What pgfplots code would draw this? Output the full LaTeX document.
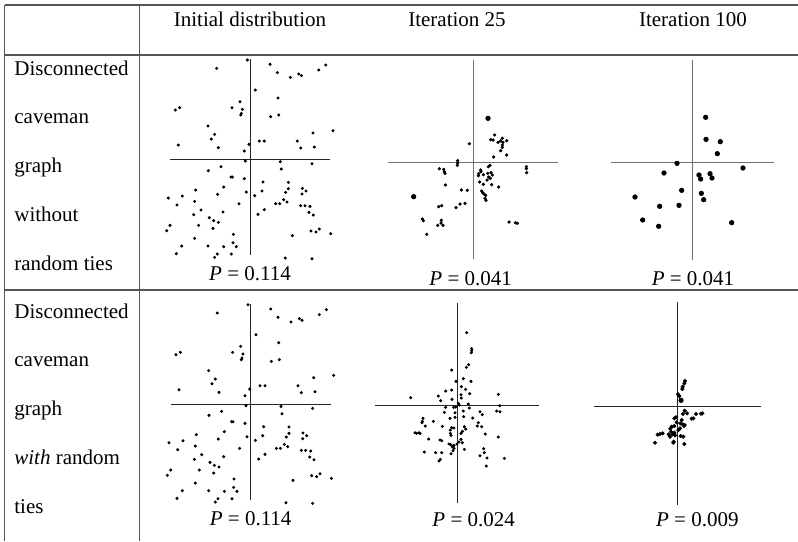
\documentclass[border=0pt]{standalone}
\usepackage{fontspec}
\setmainfont{Liberation Serif}
\usepackage{pgfplots}
\usepackage{pgfplotstable}
\pgfplotsset{compat=1.18}

\definecolor{rulegray}{HTML}{555555}
\definecolor{crossgray}{HTML}{707070}

% one unit in the panels = 1/3 px of the original figure, y downwards
\pgfplotsset{
  panel/.style={scale only axis, hide axis, anchor=north west,
    y dir=reverse, clip=false, xmin=0, ymin=0},
  dots/.style={only marks, mark=*, mark size=#1, black},
  cross/.style={no marks, line width=0.5pt, color=#1},
}

% initial distribution (same for both graphs)
\pgfplotstableread{
x y
322 15
230 40
390 28
412 53
451 67
476 57
484 62
536 45
557 30
346 105
300 140
414 129
106 165
119 158
276 158
307 163
304 175
302 180
392 185
416 180
204 213
224 238
214 252
519 234
579 227
115 270
235 278
327 268
358 258
373 258
472 258
482 279
523 276
313 288
316 318
421 320
516 326
243 335
205 347
424 342
273 366
277 366
313 371
369 381
445 382
251 396
167 405
445 401
487 400
498 408
437 412
486 417
319 411
366 408
85 429
127 423
233 418
344 422
164 439
431 434
441 441
407 446
419 446
297 446
111 450
482 452
495 452
510 454
183 465
373 464
249 471
161 479
354 478
507 472
520 480
208 488
221 497
235 502
90 511
80 527
176 511
219 520
280 538
457 542
513 528
528 531
538 522
572 536
164 550
279 563
289 575
125 573
204 573
251 575
109 596
232 597
224 607
274 597
436 609
516 611
}\initdist

% without random ties, iteration 25
\pgfplotstableread{
x y
449 240
437 254
444 255
459 262
467 258
472 250
474 262
485 257
472 270
472 277
467 287
485 300
373 266
446 306
338 317
338 324
337 331
435 331
430 335
283 341
296 343
298 350
300 355
407 345
408 350
401 356
400 362
415 359
428 355
438 353
442 360
431 366
436 370
426 375
404 381
415 388
440 389
461 396
544 335
544 341
545 353
301 390
349 405
367 406
410 408
413 413
418 418
420 430
423 436
422 421
290 452
281 455
345 447
360 445
333 458
232 492
235 497
289 496
288 504
278 511
294 511
492 501
511 503
517 505
245 538
}\noTiesA
\pgfplotstableread{
x y
429 190
206 425
}\noTiesAbig

% without random ties, iteration 100
\pgfplotstableread{
x y
407 187
408 253
451 260
442 296
321 325
282 354
387 360
392 372
420 356
426 369
519 339
335 406
394 415
401 434
195 426
269 454
327 451
218 495
266 514
485 503
}\noTiesB

% with random ties, iteration 25
\pgfplotstableread{
x y
365 128
380 176
380 182
379 188
371 224
364 232
320 240
333 274
355 266
378 274
349 290
362 298
320 300
302 303
280 318
287 332
321 328
348 314
374 311
349 324
197 323
460 313
340 340
343 345
332 351
326 352
302 352
370 342
373 354
464 347
455 363
465 365
298 367
330 368
355 363
405 365
412 374
315 385
330 382
356 380
383 384
234 385
232 394
231 398
265 394
400 398
397 408
410 410
241 408
292 409
320 413
327 414
358 410
362 417
352 424
348 430
210 428
215 430
222 428
225 430
316 420
316 430
318 436
421 432
460 441
251 447
285 450
290 452
348 448
342 456
352 458
312 462
317 464
327 466
322 470
327 475
336 462
358 478
416 476
418 488
324 482
238 486
272 488
290 488
286 508
282 513
318 491
405 497
426 504
478 505
424 528
}\tiesA

% with random ties, iteration 100
\pgfplotstableread{
x y
345 273
343 280
338 290
337 297
324 313
328 318
344 362
339 372
351 370
365 386
370 385
378 372
393 371
397 370
318 382
313 385
335 390
320 397
331 400
338 403
344 405
342 408
313 408
305 410
301 416
330 415
325 420
313 428
303 425
296 433
307 433
278 430
270 432
263 434
300 440
315 436
332 438
340 440
311 455
310 458
255 458
343 462
}\tiesB

\begin{document}
\begin{tikzpicture}[x=0.5pt, y=-0.5pt, font=\fontsize{10.5}{12}\selectfont]
\useasboundingbox (0,0) rectangle (798,541);

% table rules
\draw[rulegray, line width=0.6pt] (4.5,5) -- (798,5);
\draw[rulegray, line width=1pt] (4.5,55) -- (798,55);
\draw[rulegray, line width=0.6pt] (4.5,290) -- (798,290);
\draw[rulegray, line width=0.6pt] (4.5,5) -- (4.5,541);
\draw[rulegray, line width=0.6pt] (139.5,5) -- (139.5,541);

% column heads
\node[anchor=base] at (250,26.5) {Initial distribution};
\node[anchor=base] at (457,26.5) {Iteration 25};
\node[anchor=base] at (693,26.5) {Iteration 100};

% row heads
\foreach \txt [count=\i from 0] in {Disconnected, caveman, graph, without, random ties}
  \node[anchor=base west, inner sep=0pt] at (14,75+48.75*\i) {\txt};
\foreach \txt [count=\i from 0] in {Disconnected, caveman, graph, {\textit{with} random}, ties}
  \node[anchor=base west, inner sep=0pt] at (14,318+48.75*\i) {\txt};

% ---- without random ties
\begin{axis}[panel, at={(70pt,-27.5pt)}, width=102.5pt, height=117.5pt,
  xmax=615, ymax=705]
\addplot[cross=black!85] coordinates {(90,313) (570,313)};
\addplot[cross=black!85] coordinates {(330,12) (330,600)};
\addplot[dots=0.55pt] table {\initdist};
\node[anchor=base] at (axis cs:330,677) {\textit{P} = 0.114};
\end{axis}

\begin{axis}[panel, at={(172.5pt,-27.5pt)}, width=112.5pt, height=117.5pt,
  xmax=675, ymax=705]
\addplot[cross=crossgray] coordinates {(130,322) (640,322)};
\addplot[cross=crossgray] coordinates {(386,15) (386,612)};
\addplot[dots=0.6pt] table {\noTiesA};
\addplot[dots=1.1pt] table {\noTiesAbig};
\node[anchor=base] at (axis cs:377,690) {\textit{P} = 0.041};
\end{axis}

\begin{axis}[panel, at={(285pt,-27.5pt)}, width=114pt, height=117.5pt,
  xmax=684, ymax=705]
\addplot[cross=crossgray] coordinates {(122,322) (611,322)};
\addplot[cross=crossgray] coordinates {(368,15) (368,615)};
\addplot[dots=1.1pt] table {\noTiesB};
\node[anchor=base] at (axis cs:369,690) {\textit{P} = 0.041};
\end{axis}

% ---- with random ties
\begin{axis}[panel, at={(70.33pt,-149.83pt)}, width=102.5pt, height=117.5pt,
  xmax=615, ymax=705]
\addplot[cross=black!85] coordinates {(90,313) (570,313)};
\addplot[cross=black!85] coordinates {(330,12) (330,600)};
\addplot[dots=0.55pt] table {\initdist};
\node[anchor=base] at (axis cs:330,677) {\textit{P} = 0.114};
\end{axis}

\begin{axis}[panel, at={(172.5pt,-145pt)}, width=112.5pt, height=125.5pt,
  xmax=675, ymax=753]
\addplot[cross=black!85] coordinates {(90,346) (582,346)};
\addplot[cross=black!85] coordinates {(337,40) (337,638)};
\addplot[dots=0.55pt] table {\tiesA};
\node[anchor=base] at (axis cs:386,710) {\textit{P} = 0.024};
\end{axis}

\begin{axis}[panel, at={(285pt,-145pt)}, width=114pt, height=125.5pt,
  xmax=684, ymax=753]
\addplot[cross=black!85] coordinates {(72,348) (572,348)};
\addplot[cross=black!85] coordinates {(321,35) (321,645)};
\addplot[dots=0.8pt] table {\tiesB};
\addplot[dots=1.1pt] coordinates {(333,331)};
\node[anchor=base] at (axis cs:382,710) {\textit{P} = 0.009};
\end{axis}
\end{tikzpicture}
\end{document}
